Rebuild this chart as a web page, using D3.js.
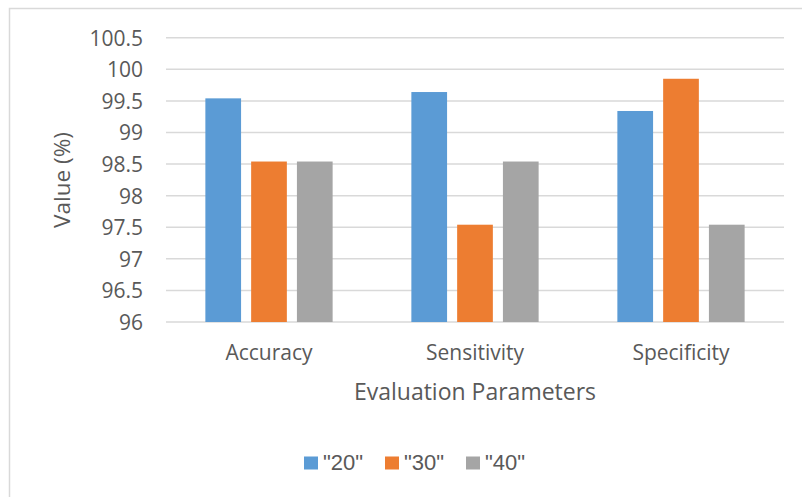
<!DOCTYPE html>
<html><head><meta charset="utf-8">
<script src="https://cdn.jsdelivr.net/npm/d3@7"></script>
<style>body{margin:0;background:#fff;} svg{display:block;}</style>
</head><body>
<svg id="c" width="802" height="497"></svg>
<script>
const categories = ["Accuracy", "Sensitivity", "Specificity"];
const seriesNames = ['"20"', '"30"', '"40"'];
const s20 = [99.54, 99.64, 99.34];
const s30 = [98.54, 97.54, 99.85];
const s40 = [98.54, 98.54, 97.54];
const yTicks = [96, 96.5, 97, 97.5, 98, 98.5, 99, 99.5, 100, 100.5];
const colors = ["#5b9bd5", "#ed7d31", "#a5a5a5"];
const series = [s20, s30, s40];

const svg = d3.select("#c");
const font = "'Open Sans', sans-serif";
const txt = "#595959";

svg.append("path").attr("d", "M9.5,497 V8.5 H802").attr("fill", "none").attr("stroke", "#d9d9d9").attr("stroke-width", 1.5);

const x0 = d3.scaleBand().domain(categories).range([166, 784]).paddingInner(0).paddingOuter(0);
const x1 = d3.scaleBand().domain(d3.range(3)).range([0, x0.bandwidth()]).paddingInner(0.22).paddingOuter(0.86);
const y = d3.scaleLinear().domain([96, 100.5]).range([322, 37.7]);

const g = svg.append("g");
g.selectAll(".grid").data(yTicks).join("line")
  .attr("x1", 166).attr("x2", 784)
  .attr("y1", d => y(d)).attr("y2", d => y(d))
  .attr("stroke", "#d9d9d9").attr("stroke-width", 1.5);

const yAxis = d3.axisLeft(y).tickValues(yTicks).tickSize(0).tickPadding(0).tickFormat(d => String(d));
const ya = svg.append("g").attr("transform", "translate(143,0)").call(yAxis);
ya.select(".domain").remove();
ya.selectAll("text").attr("font-family", font).attr("font-size", 21).attr("fill", txt).attr("dy", "0.35em");

categories.forEach((c, ci) => {
  series.forEach((s, si) => {
    svg.append("rect")
      .attr("x", x0(c) + x1(si))
      .attr("y", y(s[ci]))
      .attr("width", x1.bandwidth())
      .attr("height", y(96) - y(s[ci]))
      .attr("fill", colors[si]);
  });
});

const xAxis = d3.axisBottom(x0).tickSize(0).tickPadding(0);
const xa = svg.append("g").attr("transform", "translate(0,360)").call(xAxis);
xa.select(".domain").remove();
xa.selectAll("text").attr("font-family", font).attr("font-size", 21).attr("fill", txt).attr("dy", 0);

svg.append("text").attr("x", 475).attr("y", 400).attr("text-anchor", "middle")
  .attr("font-family", font).attr("font-size", 23).attr("fill", txt).text("Evaluation Parameters");

svg.append("text").attr("transform", "translate(70,180) rotate(-90)").attr("text-anchor", "middle")
  .attr("font-family", font).attr("font-size", 22.5).attr("fill", txt).text("Value (%)");

const legX = [304, 385, 466];
seriesNames.forEach((n, i) => {
  svg.append("rect").attr("x", legX[i]).attr("y", 456.5).attr("width", 14).attr("height", 13).attr("fill", colors[i]);
  svg.append("text").attr("x", legX[i] + 19).attr("y", 469.5)
    .attr("font-family", "'Liberation Sans', Arial, sans-serif").attr("font-size", 22).attr("fill", txt).text(n);
});
</script>
</body></html>
